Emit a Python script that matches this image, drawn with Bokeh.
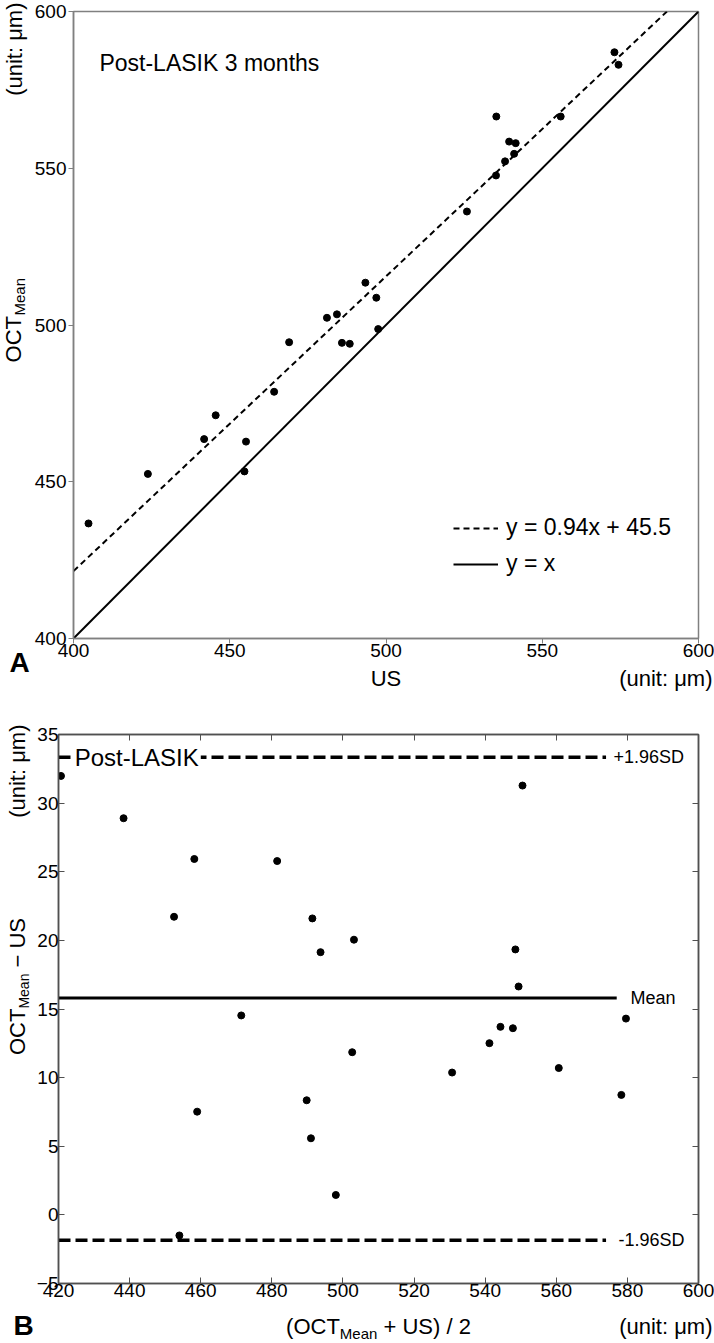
import math
from bokeh.plotting import figure
from bokeh.models import (Range1d, LinearAxis, FixedTicker, Label, Legend,
                          LegendItem, CustomJSTickFormatter)
from bokeh.layouts import column, row
from bokeh.embed import file_html
from bokeh.resources import INLINE

FONT = "Liberation Sans"

# ---------------- Panel A data: US vs OCT_Mean ----------------
us = [404.8, 423.8, 441.8, 445.5, 455.2, 454.7, 464.2, 469.0, 485.9, 488.4,
      481.1, 484.3, 493.4, 496.9, 497.5, 525.9, 535.3, 535.2, 539.4, 541.5,
      538.1, 541.0, 555.9, 573.1, 574.4]
oct_mean = [436.7, 452.5, 463.6, 471.2, 462.8, 453.3, 478.7, 494.5, 494.3, 494.0,
            502.3, 503.4, 513.5, 508.7, 498.7, 536.2, 566.5, 547.7, 558.5, 558.0,
            552.2, 554.6, 566.5, 587.0, 583.0]
fit_slope = 0.94
fit_intercept = 45.5
a_range = [400, 600]
a_ticks = [400, 450, 500, 550, 600]
a_title = "Post-LASIK 3 months"

# ---------------- Panel B data: Bland-Altman ----------------
ba_mean = [420.7, 438.3, 452.5, 458.2, 481.5, 491.4, 493.7, 503.1, 471.4, 550.5,
           548.5, 549.4, 579.6, 502.6, 459.0, 489.8, 491.0, 498.0, 454.0, 530.7,
           541.2, 544.3, 547.8, 560.7, 578.3]
ba_diff = [31.98, 28.9, 21.72, 25.93, 25.78, 21.6, 19.14, 20.05, 14.53, 31.28,
           19.34, 16.64, 14.3, 11.85, 7.52, 8.35, 5.58, 1.45, -1.5, 10.37,
           12.51, 13.7, 13.6, 10.7, 8.74]
diff_mean = 15.8
upper_loa = 33.35
lower_loa = -1.85
loa_x = [420, 574]
mean_x = [420, 577]
b_xrange = [420, 600]
b_yrange = [-5, 35]
b_xticks = [420, 440, 460, 480, 500, 520, 540, 560, 580, 600]
b_yticks = [-5, 0, 5, 10, 15, 20, 25, 30, 35]

# approximate Arial advance widths (per 1000 em) for composing sub-scripted labels
ADV = {'(': 333, ')': 333, 'O': 778, 'C': 722, 'T': 611, ' ': 278, '+': 584,
       'U': 722, 'S': 667, '/': 278, '2': 556, '\u2212': 584, 'M': 833,
       'e': 556, 'a': 556, 'n': 556}


def tw(s, size):
    return sum(ADV.get(c, 556) for c in s) / 1000.0 * size


def lab(p, text, sx, sy, size, angle=0.0, align="left", bold=False):
    p.add_layout(Label(x=sx, y=sy, x_units="screen", y_units="screen", text=text,
                       text_font=FONT, text_font_size=f"{size}px", angle=angle,
                       text_align=align, text_baseline="middle",
                       text_font_style="bold" if bold else "normal",
                       text_color="black"))


def strip(w, h):
    f = figure(width=w, height=h, x_range=Range1d(0, w), y_range=Range1d(0, h),
               output_backend="svg", toolbar_location=None,
               x_axis_location=None, y_axis_location=None,
               min_border_left=0, min_border_right=0, min_border_top=0,
               min_border_bottom=0)
    f.outline_line_color = None
    f.xgrid.visible = False
    f.ygrid.visible = False
    f.background_fill_color = "white"
    f.border_fill_color = "white"
    f.frame_align = False
    return f


TOTAL_W = 714
ROT = math.pi / 2

# ======================= Panel A =======================
LW1 = 30
PW1 = TOTAL_W - LW1
H1 = 665                     # figure height (page y 0..665)
HB1 = 26                     # text row under panel A
p1 = figure(width=PW1, height=H1, x_range=Range1d(*a_range), y_range=Range1d(*a_range),
            output_backend="svg", toolbar_location=None,
            min_border_left=73 - LW1, min_border_right=PW1 - (698 - LW1),
            min_border_top=11, min_border_bottom=H1 - 638)
p1.frame_align = False
p1.background_fill_color = "white"
p1.border_fill_color = "white"
p1.xgrid.visible = False
p1.ygrid.visible = False
p1.outline_line_color = "#808080"
p1.outline_line_width = 1.5
for ax in (p1.xaxis[0], p1.yaxis[0]):
    ax.ticker = FixedTicker(ticks=a_ticks)
    ax.axis_line_color = "#808080"
    ax.axis_line_width = 1.5
    ax.major_tick_line_color = "#808080"
    ax.major_tick_out = 5
    ax.major_tick_in = 0
    ax.minor_tick_line_color = None
    ax.major_label_text_font = FONT
    ax.major_label_text_font_size = "19px"
    ax.major_label_text_color = "black"
p1.xaxis[0].major_label_standoff = 0
p1.yaxis[0].major_label_standoff = 2

fit_x = [a_range[0], (a_range[1] - fit_intercept) / fit_slope]
fit_y = [fit_slope * v + fit_intercept for v in fit_x]
r_fit = p1.line(fit_x, fit_y, line_color="black", line_width=2, line_dash="6 4")
r_id = p1.line(a_range, a_range, line_color="black", line_width=2)
p1.scatter(us, oct_mean, size=7, color="black")

p1.add_layout(Label(x=408.3, y=583.7, text=a_title, text_font=FONT,
                    text_font_size="23px", text_baseline="middle", text_color="black"))

legend = Legend(items=[LegendItem(label=f"y = {fit_slope}x + {fit_intercept}", renderers=[r_fit]),
                       LegendItem(label="y = x", renderers=[r_id])],
                location=(380, 61), glyph_width=45, glyph_height=24, label_standoff=8,
                spacing=9, padding=0, margin=0, border_line_color=None,
                background_fill_alpha=0, label_text_font=FONT,
                label_text_font_size="23px", label_text_color="black", label_height=24)
p1.add_layout(legend)

# left strip of panel A (rotated y-axis texts and the panel letter)
HL1 = H1 + HB1
L1 = strip(LW1, HL1)
lab(L1, "(unit: \u03bcm)", 14, HL1 - 2, 22, angle=ROT, align="right")
Ltot = tw("OCT", 22) + tw("Mean", 15)
ystart = 320 + Ltot / 2
lab(L1, "OCT", 12.5, HL1 - ystart, 22, angle=ROT)
lab(L1, "Mean", 18.5, HL1 - ystart + tw("OCT", 22) + 0.5, 15, angle=ROT)
lab(L1, "A", 9, HL1 - 662, 28, bold=True)

# text row under panel A
B1 = strip(PW1, HB1)
lab(B1, "US", (73 + 698) / 2 - LW1, 13, 22, align="center")
lab(B1, "(unit: \u03bcm)", 712 - LW1, 13, 22, align="right")

# ======================= Panel B =======================
TOP2 = HL1                    # page y where panel B starts
LW2 = 31
PW2 = TOTAL_W - LW2
BOT2 = 1309                   # page y where panel B figure ends
H2 = BOT2 - TOP2
p2 = figure(width=PW2, height=H2, x_range=Range1d(*b_xrange), y_range=Range1d(*b_yrange),
            output_backend="svg", toolbar_location=None,
            min_border_left=58 - LW2, min_border_right=PW2 - (698 - LW2),
            min_border_top=734 - TOP2, min_border_bottom=BOT2 - 1283)
p2.frame_align = False
p2.background_fill_color = "white"
p2.border_fill_color = "white"
p2.xgrid.visible = False
p2.ygrid.visible = False
p2.outline_line_color = "#505050"
p2.outline_line_width = 1.5
p2.xaxis[0].ticker = FixedTicker(ticks=b_xticks)
p2.yaxis[0].ticker = FixedTicker(ticks=b_yticks)
for ax in (p2.xaxis[0], p2.yaxis[0]):
    ax.axis_line_color = "#505050"
    ax.axis_line_width = 1.5
    ax.major_tick_line_color = "#505050"
    ax.major_tick_out = 0
    ax.major_tick_in = 6
    ax.minor_tick_line_color = None
    ax.major_label_text_font = FONT
    ax.major_label_text_font_size = "19px"
    ax.major_label_text_color = "black"
    ax.major_label_standoff = 0

blank = CustomJSTickFormatter(code="return ''")
for place, ticks in (("above", b_xticks), ("right", b_yticks)):
    ax = LinearAxis(ticker=FixedTicker(ticks=ticks), formatter=blank,
                    major_tick_in=6, major_tick_out=0, major_label_standoff=0,
                    major_label_text_font_size="0px", axis_line_color="#505050",
                    axis_line_width=1.5, major_tick_line_color="#505050",
                    minor_tick_line_color=None)
    p2.add_layout(ax, place)

p2.line(loa_x, [upper_loa, upper_loa], line_color="black", line_width=3.5, line_dash="12 5")
p2.line(loa_x, [lower_loa, lower_loa], line_color="black", line_width=3.5, line_dash="12 5")
p2.line(mean_x, [diff_mean, diff_mean], line_color="black", line_width=3)
p2.scatter(ba_mean, ba_diff, size=7, color="black")

p2.add_layout(Label(x=424.0, y=upper_loa, text="Post-LASIK", text_font=FONT,
                    text_font_size="24px", text_baseline="middle", text_color="black",
                    background_fill_color="white", padding=2))
p2.add_layout(Label(x=576.1, y=upper_loa, text="+1.96SD", text_font=FONT,
                    text_font_size="18px", text_baseline="middle", text_color="black"))
p2.add_layout(Label(x=580.9, y=diff_mean, text="Mean", text_font=FONT,
                    text_font_size="18px", text_baseline="middle", text_color="black"))
p2.add_layout(Label(x=577.5, y=lower_loa, text="-1.96SD", text_font=FONT,
                    text_font_size="18px", text_baseline="middle", text_color="black"))

# left strip of panel B
L2 = strip(LW2, H2)
lab(L2, "(unit: \u03bcm)", 17, BOT2 - 724, 22, angle=ROT, align="right")
yparts = [("OCT", 22, 17), ("Mean", 14, 23), (" \u2212 US", 22, 17)]
Ly = sum(tw(t, s) for t, s, _ in yparts)
ys0 = 986 + Ly / 2
for t, s, sx in yparts:
    lead = len(t) - len(t.lstrip(" "))
    lab(L2, t.lstrip(" "), sx, BOT2 - (ys0 - tw(" " * lead, s)), s, angle=ROT)
    ys0 -= tw(t, s)

# text row under panel B
HB2 = 1343 - BOT2
B2 = strip(TOTAL_W, HB2)
lab(B2, "B", 13, 1343 - 1325, 28, bold=True)
parts = [("(OCT", 22, 0), ("Mean", 15, -6.5), (" + US) / 2", 22, 0)]
Lx = sum(tw(t, s) for t, s, _ in parts)
x0 = (58 + 698) / 2 - Lx / 2
for t, s, dy in parts:
    lead = len(t) - len(t.lstrip(" "))
    lab(B2, t.lstrip(" "), x0 + tw(" " * lead, s), 1343 - 1326 + dy, s)
    x0 += tw(t, s)
lab(B2, "(unit: \u03bcm)", 712, 1343 - 1326, 22, align="right")

layout = column(row(L1, column(p1, B1)), row(L2, p2), B2)
open("out.html", "w").write(file_html(layout, INLINE))
